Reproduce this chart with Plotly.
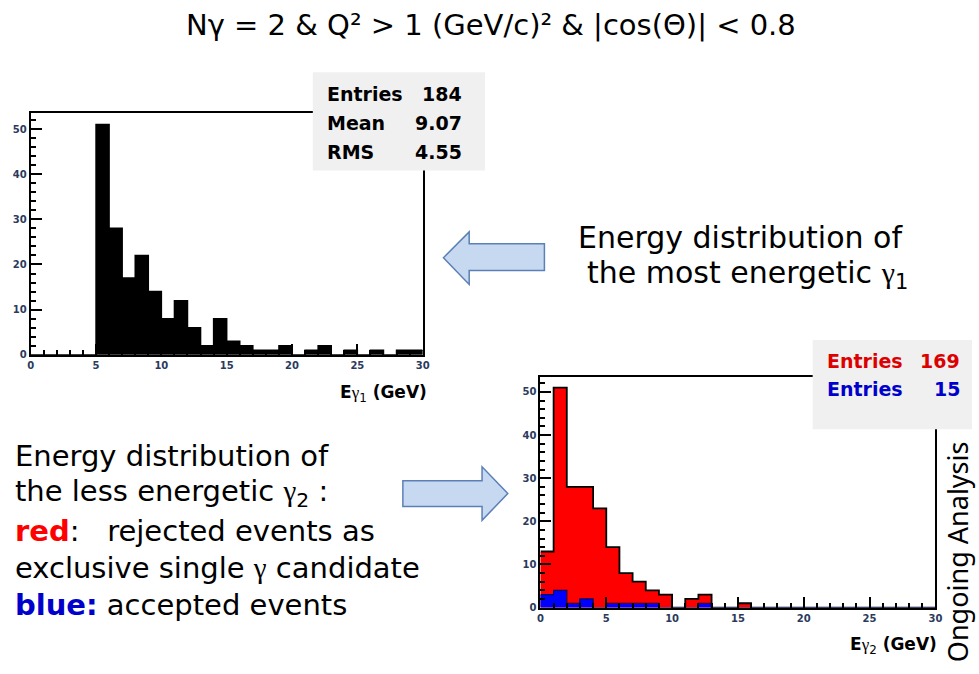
import plotly.graph_objects as go

W, H = 979, 674

# ---------------- data ----------------
bin_edges = list(range(0, 31))
# most energetic photon (E_gamma1), 1 GeV bins 0..30
e1_counts = [0, 0, 0, 0, 0, 51, 28, 17, 22, 14, 8, 12, 6, 2, 8, 3, 2, 1, 1, 2,
             0, 1, 2, 0, 1, 0, 1, 0, 1, 1]
# less energetic photon (E_gamma2)
e2_rejected = [10, 47, 27, 26, 23, 13, 7, 5, 3, 3, 0, 2, 2, 0, 0, 1, 0, 0, 0, 0,
               0, 0, 0, 0, 0, 0, 0, 0, 0, 0]
e2_accepted = [3, 4, 1, 2, 0, 1, 1, 1, 1, 0, 0, 0, 1, 0, 0, 0, 0, 0, 0, 0,
               0, 0, 0, 0, 0, 0, 0, 0, 0, 0]
stats_top = [("Entries", "184"), ("Mean", "9.07"), ("RMS", "4.55")]
stats_bottom = [("Entries", "169"), ("Entries", "15")]

x_ticks = [0, 5, 10, 15, 20, 25, 30]
y_ticks = [0, 10, 20, 30, 40, 50]

centers = [(a + b) / 2 for a, b in zip(bin_edges[:-1], bin_edges[1:])]
e2_total = [r + a for r, a in zip(e2_rejected, e2_accepted)]


def px(x):
    return x / W


def py(y):
    return 1 - y / H


fig = go.Figure()

# top histogram
fig.add_trace(go.Bar(x=centers, y=e1_counts, width=1, marker=dict(color="black", line=dict(width=0)),
                     xaxis="x", yaxis="y", showlegend=False))
fig.add_trace(go.Scatter(x=bin_edges, y=e1_counts + [e1_counts[-1]], mode="lines", line_shape="hv",
                         line=dict(color="black", width=1.5), xaxis="x", yaxis="y", showlegend=False))

# bottom histogram
fig.add_trace(go.Bar(x=centers, y=e2_total, width=1, marker=dict(color="#ff0000", line=dict(width=0)),
                     xaxis="x2", yaxis="y2", showlegend=False))
fig.add_trace(go.Bar(x=centers, y=e2_accepted, width=1, marker=dict(color="#0000ff", line=dict(width=0)),
                     xaxis="x2", yaxis="y2", showlegend=False))
fig.add_trace(go.Scatter(x=bin_edges, y=e2_total + [e2_total[-1]], mode="lines", line_shape="hv",
                         line=dict(color="black", width=1.8), xaxis="x2", yaxis="y2", showlegend=False))
fig.add_trace(go.Scatter(x=bin_edges, y=e2_accepted + [e2_accepted[-1]], mode="lines", line_shape="hv",
                         line=dict(color="#000060", width=1.2), xaxis="x2", yaxis="y2", showlegend=False))

tickfont = dict(family="DejaVu Sans", size=10, color="#2b3a5c", weight="bold")


def xaxis(domain, anchor):
    return dict(domain=domain, anchor=anchor, range=[0, 30], tickvals=x_ticks, ticks="inside",
                ticklen=11, tickwidth=1.5, tickcolor="black", showline=True, linecolor="black",
                linewidth=2, mirror=True, showgrid=False, zeroline=False, tickfont=tickfont,
                minor=dict(ticks="inside", dtick=1, ticklen=5, tickwidth=1.5, tickcolor="black", showgrid=False),
                fixedrange=True)


def yaxis(domain, anchor):
    return dict(domain=domain, anchor=anchor, range=[0, 53.55], tickvals=y_ticks, ticks="inside",
                ticklen=11, tickwidth=1.5, tickcolor="black", showline=True, linecolor="black",
                linewidth=2, mirror=True, showgrid=False, zeroline=False, tickfont=tickfont,
                minor=dict(ticks="inside", dtick=2, ticklen=5, tickwidth=1.5, tickcolor="black", showgrid=False),
                fixedrange=True)


fig.update_layout(
    width=W, height=H, margin=dict(l=0, r=0, t=0, b=0),
    paper_bgcolor="white", plot_bgcolor="white", barmode="overlay", bargap=0,
    xaxis=xaxis([px(28), px(424)], "y"),
    yaxis=yaxis([py(358), py(114)], "x"),
    xaxis2=xaxis([px(543), px(942)], "y2"),
    yaxis2=yaxis([py(613), py(380)], "x2"),
)

shapes = []
# stats boxes
shapes.append(dict(type="rect", xref="paper", yref="paper", x0=px(313), x1=px(487), y0=py(172), y1=py(73),
                   fillcolor="#f0f0f0", line=dict(width=0), layer="above"))
shapes.append(dict(type="rect", xref="paper", yref="paper", x0=px(818), x1=px(979), y0=py(433), y1=py(343),
                   fillcolor="#f0f0f0", line=dict(width=0), layer="above"))


def arrow_path(pts):
    return "M " + " L ".join(f"{px(x)},{py(y)}" for x, y in pts) + " Z"


# left-pointing block arrow
left_pts = [(445, 260), (471, 234), (471, 246), (547, 246), (547, 273), (471, 273), (471, 287)]
shapes.append(dict(type="path", xref="paper", yref="paper", path=arrow_path(left_pts),
                   fillcolor="#c6d9f1", line=dict(color="#5b80b6", width=1.5), layer="above"))
# right-pointing block arrow
right_pts = [(510, 498), (484, 471), (484, 485), (404, 485), (404, 511), (484, 511), (484, 525)]
shapes.append(dict(type="path", xref="paper", yref="paper", path=arrow_path(right_pts),
                   fillcolor="#c6d9f1", line=dict(color="#5b80b6", width=1.5), layer="above"))

ann = []
TXT = "DejaVu Sans"
GAM = "<span style=\"font-family:'Liberation Serif'\">γ</span>"

ann.append(dict(x=px(493), y=py(25), text="Nγ = 2 &amp; Q² &gt; 1 (GeV/c)² &amp; |cos(Θ)| &lt; 0.8",
                font=dict(family=TXT, size=29, color="black")))

# stats text top
for i, (lab, val) in enumerate(stats_top):
    yy = py(95 + 29 * i)
    ann.append(dict(x=px(325), y=yy, text=f"<b>{lab}</b>", xanchor="left",
                    font=dict(family=TXT, size=19, color="black")))
    ann.append(dict(x=px(466), y=yy, text=f"<b>{val}</b>", xanchor="right",
                    font=dict(family=TXT, size=19, color="black")))
# stats text bottom
for i, ((lab, val), col) in enumerate(zip(stats_bottom, ["#dd0000", "#0000cc"])):
    yy = py(364 + 28 * i)
    ann.append(dict(x=px(830), y=yy, text=f"<b>{lab}</b>", xanchor="left",
                    font=dict(family=TXT, size=19, color=col)))
    ann.append(dict(x=px(969), y=yy, text=f"<b>{val}</b>", xanchor="right",
                    font=dict(family=TXT, size=19, color=col)))

# axis titles
ann.append(dict(x=px(430), y=py(397), xanchor="right",
                text=f"<b>E</b>{GAM}<sub>1</sub><b> (GeV)</b>", font=dict(family=TXT, size=17, color="black")))
ann.append(dict(x=px(946), y=py(651), xanchor="right",
                text=f"<b>E</b>{GAM}<sub>2</sub><b> (GeV)</b>", font=dict(family=TXT, size=17, color="black")))

# right description
ann.append(dict(x=px(745), y=py(240), text="Energy distribution of", font=dict(family=TXT, size=30, color="black")))
ann.append(dict(x=px(752), y=py(277), text=f"the most energetic {GAM}<sub>1</sub>",
                font=dict(family=TXT, size=30, color="black")))

# left description
left_lines = [
    "Energy distribution of",
    f"the less energetic {GAM}<sub>2</sub> :",
    "<b><span style='color:#ff0000'>red</span></b>:   rejected events as",
    f"exclusive single {GAM} candidate",
    "<b><span style='color:#0000cc'>blue:</span></b> accepted events",
]
for i, line in enumerate(left_lines):
    ann.append(dict(x=px(10), y=py(460 + 37.7 * i), xanchor="left", text=line,
                    font=dict(family=TXT, size=29, color="black")))

ann.append(dict(x=px(964), y=py(557), text="Ongoing Analysis", textangle=-90,
                font=dict(family="Noto Sans", size=27, color="black")))

for a in ann:
    a.setdefault("xref", "paper")
    a.setdefault("yref", "paper")
    a.setdefault("showarrow", False)
    a.setdefault("yanchor", "middle")
    a.setdefault("xanchor", "center")

fig.update_layout(shapes=shapes, annotations=ann)
fig.write_html("out.html")
